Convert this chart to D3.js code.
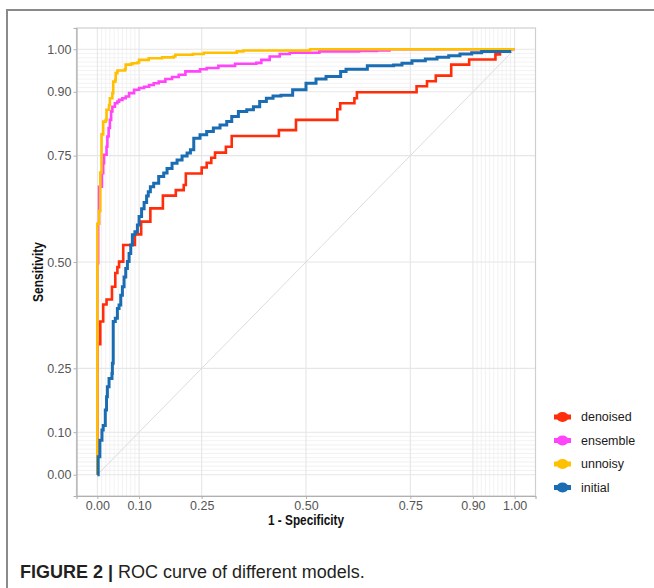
<!DOCTYPE html>
<html lang="en">
<head>
    <meta charset="UTF-8">
    <title>ROC curve of different models</title>
    <script src="https://d3js.org/d3.v7.min.js"></script>
    <style>
      body { margin: 0; background: #ffffff; }
      text { font-family: "Liberation Sans", Arial, sans-serif; }
    </style>
</head>
<body>
<svg id="mainCanvas" width="654" height="588" xmlns="http://www.w3.org/2000/svg"></svg>
<script>

// tick values on both axes
let tickValues = [0, 0.10, 0.25, 0.50, 0.75, 0.90, 1.00];
// extra fine grid lines near the ends
let fineGrid = [0.01, 0.02, 0.03, 0.04, 0.05, 0.06, 0.07, 0.08, 0.09,
                0.91, 0.92, 0.93, 0.94, 0.95, 0.96, 0.97, 0.98, 0.99];

let seriesNames = ['denoised', 'ensemble', 'unnoisy', 'initial'];
let seriesColours = ['#ff2d0a', '#ff44fa', '#ffc000', '#1a6db2'];

// [1 - specificity, sensitivity]
let denoised = [[0,0],[0,0.307],[0.007,0.36],[0.014,0.40],[0.022,0.412],[0.035,0.442],[0.043,0.474],
  [0.048,0.488],[0.052,0.501],[0.062,0.540],[0.090,0.565],[0.105,0.595],[0.127,0.626],[0.157,0.656],
  [0.188,0.669],[0.207,0.681],[0.212,0.708],[0.250,0.722],[0.262,0.733],[0.273,0.745],[0.282,0.757],
  [0.308,0.771],[0.322,0.796],[0.435,0.810],[0.476,0.834],[0.575,0.859],[0.582,0.873],[0.616,0.885],
  [0.622,0.899],[0.765,0.913],[0.790,0.925],[0.811,0.938],[0.848,0.964],[0.891,0.976],[0.954,0.988],
  [0.968,0.988]];

let ensemble = [[0,0],[0,0.497],[0.002,0.59],[0.004,0.677],[0.011,0.709],[0.014,0.732],[0.016,0.752],
  [0.022,0.771],[0.024,0.795],[0.027,0.815],[0.030,0.834],[0.033,0.854],[0.036,0.865],[0.042,0.873],
  [0.048,0.877],[0.052,0.881],[0.060,0.885],[0.068,0.889],[0.076,0.897],[0.088,0.905],[0.100,0.909],
  [0.112,0.912],[0.124,0.916],[0.135,0.920],[0.147,0.924],[0.163,0.930],[0.179,0.935],[0.195,0.940],
  [0.211,0.948],[0.246,0.953],[0.262,0.956],[0.290,0.961],[0.330,0.966],[0.381,0.968],[0.393,0.975],
  [0.413,0.983],[0.437,0.989],[0.461,0.992],[0.532,0.995],[0.627,0.996],[0.670,0.997],[0.700,1.0],[1,1]];

let unnoisy = [[0,0],[0,0.59],[0.004,0.62],[0.007,0.71],[0.010,0.80],[0.014,0.83],[0.020,0.834],
  [0.022,0.858],[0.028,0.869],[0.030,0.885],[0.036,0.897],[0.038,0.924],[0.043,0.928],[0.044,0.944],
  [0.048,0.950],[0.066,0.953],[0.068,0.964],[0.080,0.965],[0.084,0.967],[0.096,0.969],[0.100,0.975],
  [0.123,0.979],[0.155,0.981],[0.183,0.983],[0.187,0.987],[0.229,0.989],[0.255,0.992],[0.334,0.995],
  [0.350,0.997],[0.510,1.0],[1,1]];

let initial = [[0,0],[0.002,0.042],[0.006,0.081],[0.011,0.105],[0.014,0.116],[0.019,0.152],[0.022,0.183],
  [0.024,0.207],[0.028,0.226],[0.035,0.238],[0.036,0.262],[0.038,0.34],[0.038,0.36],[0.043,0.368],
  [0.048,0.391],[0.052,0.399],[0.056,0.422],[0.060,0.442],[0.064,0.465],[0.068,0.485],[0.072,0.501],
  [0.076,0.520],[0.080,0.540],[0.084,0.564],[0.090,0.571],[0.096,0.587],[0.100,0.607],[0.106,0.625],
  [0.112,0.640],[0.118,0.655],[0.122,0.665],[0.127,0.677],[0.135,0.685],[0.147,0.701],[0.159,0.709],
  [0.167,0.720],[0.179,0.732],[0.191,0.740],[0.203,0.749],[0.215,0.756],[0.223,0.764],[0.231,0.791],
  [0.246,0.799],[0.262,0.807],[0.278,0.815],[0.294,0.822],[0.310,0.830],[0.322,0.842],[0.338,0.854],
  [0.358,0.858],[0.374,0.865],[0.389,0.877],[0.405,0.885],[0.421,0.890],[0.440,0.892],[0.468,0.905],
  [0.500,0.920],[0.524,0.930],[0.548,0.936],[0.583,0.948],[0.596,0.953],[0.647,0.961],[0.710,0.963],
  [0.730,0.967],[0.754,0.973],[0.786,0.977],[0.814,0.981],[0.842,0.985],[0.869,0.989],[0.897,0.992],
  [0.921,0.995],[0.992,0.995]];

let seriesData = [denoised, ensemble, unnoisy, initial];

let svg = d3.select('#mainCanvas');

// outer figure frame
svg.append('rect')
    .attr('x', 7).attr('y', 10)
    .attr('width', 660).attr('height', 600)
    .style('fill', 'none')
    .style('stroke', '#8a8a8a')
    .style('stroke-width', 2);

let panel = {left: 76.5, top: 28, right: 535.5, bottom: 496};

let x = d3.scaleLinear().domain([-0.05, 1.05]).range([panel.left, panel.right]);
let y = d3.scaleLinear().domain([-0.05, 1.05]).range([panel.bottom, panel.top]);

let g = svg.append('g');

// fine grid
g.selectAll('.fineV').data(fineGrid).enter().append('line')
    .attr('x1', d => x(d)).attr('x2', d => x(d))
    .attr('y1', panel.top).attr('y2', panel.bottom)
    .style('stroke', '#efefef').style('stroke-width', 0.8);
g.selectAll('.fineH').data(fineGrid).enter().append('line')
    .attr('x1', panel.left).attr('x2', panel.right)
    .attr('y1', d => y(d)).attr('y2', d => y(d))
    .style('stroke', '#efefef').style('stroke-width', 0.8);

// major grid
g.selectAll('.gridV').data(tickValues).enter().append('line')
    .attr('x1', d => x(d)).attr('x2', d => x(d))
    .attr('y1', panel.top).attr('y2', panel.bottom)
    .style('stroke', '#e6e6e6').style('stroke-width', 1.1);
g.selectAll('.gridH').data(tickValues).enter().append('line')
    .attr('x1', panel.left).attr('x2', panel.right)
    .attr('y1', d => y(d)).attr('y2', d => y(d))
    .style('stroke', '#e6e6e6').style('stroke-width', 1.1);

// diagonal reference
g.append('line')
    .attr('x1', x(0)).attr('y1', y(0))
    .attr('x2', x(1)).attr('y2', y(1))
    .style('stroke', '#dcdcdc').style('stroke-width', 1);

// curves
let line = d3.line()
    .x(d => x(d[0]))
    .y(d => y(d[1]))
    .curve(d3.curveStepAfter);

seriesData.forEach(function(data, i) {
  g.append('path')
      .datum(data)
      .attr('d', line)
      .style('fill', 'none')
      .style('stroke', seriesColours[i])
      .style('stroke-width', i === 3 ? 3 : 2.6)
      .style('stroke-linejoin', 'miter');
});

// panel border
g.append('rect')
    .attr('x', panel.left).attr('y', panel.top)
    .attr('width', panel.right - panel.left)
    .attr('height', panel.bottom - panel.top)
    .style('fill', 'none')
    .style('stroke', '#cfcfcf')
    .style('stroke-width', 1.2);

// axes
let yAxis = d3.axisLeft(y).tickValues(tickValues).tickFormat(d3.format('.2f')).tickSize(3).tickPadding(2);
let xAxis = d3.axisBottom(x).tickValues(tickValues).tickFormat(d3.format('.2f')).tickSize(3).tickPadding(2);

let yG = svg.append('g').attr('transform', 'translate(' + panel.left + ',0)').call(yAxis);
let xG = svg.append('g').attr('transform', 'translate(0,' + panel.bottom + ')').call(xAxis);

[yG, xG].forEach(function(ax) {
  ax.select('.domain').style('stroke', '#b0b0b0').style('stroke-width', 1.2);
  ax.selectAll('.tick line').style('stroke', '#b0b0b0');
  ax.selectAll('.tick text')
      .style('font-size', '12.5px')
      .style('fill', '#555555')
      .style('font-family', '"Liberation Sans", Arial, sans-serif');
});

// axis titles
svg.append('text')
    .attr('x', 306).attr('y', 525)
    .attr('text-anchor', 'middle')
    .attr('textLength', 76)
    .attr('lengthAdjust', 'spacingAndGlyphs')
    .style('font-weight', 'bold')
    .style('font-size', '14.5px')
    .style('fill', '#111')
    .text('1 - Specificity');

svg.append('text')
    .attr('transform', 'translate(43,272) rotate(-90)')
    .attr('text-anchor', 'middle')
    .attr('textLength', 60)
    .attr('lengthAdjust', 'spacingAndGlyphs')
    .style('font-weight', 'bold')
    .style('font-size', '14.5px')
    .style('fill', '#111')
    .text('Sensitivity');

// legend
let legendY = d3.scalePoint().domain(seriesNames).range([417, 487.5]);
let legend = svg.append('g');
seriesNames.forEach(function(name, i) {
  let ly = legendY(name);
  legend.append('line')
      .attr('x1', 554).attr('x2', 571)
      .attr('y1', ly).attr('y2', ly)
      .style('stroke', seriesColours[i])
      .style('stroke-width', 5);
  legend.append('ellipse')
      .attr('cx', 562.5).attr('cy', ly).attr('rx', 6).attr('ry', 5)
      .style('fill', seriesColours[i]);
  legend.append('text')
      .attr('x', 581).attr('y', ly)
      .attr('dy', '0.35em')
      .style('font-size', '12.5px')
      .style('fill', '#1a1a1a')
      .text(name);
});

// caption
let caption = svg.append('text')
    .attr('x', 20).attr('y', 578)
    .style('font-size', '18px')
    .style('fill', '#231f20');
caption.append('tspan').style('font-weight', 'bold').text('FIGURE 2 | ');
caption.append('tspan').text('ROC curve of different models.');

</script>
</body>
</html>
